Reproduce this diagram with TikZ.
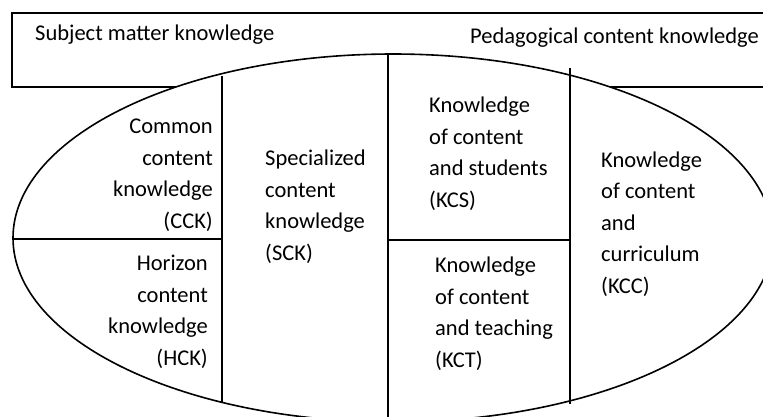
\documentclass[tikz,border=0pt]{standalone}
\usepackage{fontspec}
\setmainfont{Carlito}
\begin{document}
\begin{tikzpicture}[x=1pt,y=-1pt,
  edge/.style={line width=1.6pt},
  lbl/.style={inner sep=0pt,font=\fontsize{22.5}{31.5}\selectfont},
  lblL/.style={lbl,align=left,anchor=base west},
  lblR/.style={lbl,align=right,anchor=base east}]
\useasboundingbox (0,0) rectangle (763,416);
\clip (0,0) rectangle (763,416);
% outer knowledge band
\draw[edge] (12,13) rectangle (790,87);
% ellipse
\draw[edge,fill=white] (393,238) ellipse [x radius=380, y radius=184];
% dividing lines
\draw[edge] (222,76) -- (222,402);
\draw[edge] (388,54) -- (388,430);
\draw[edge] (570,68) -- (570,404);
\draw[edge] (14,239) -- (222,239);
\draw[edge] (388,240) -- (570,240);
% texts (anchor = baseline of the last line)
\node[lblL] (smk) at (35,40) {Subject matter knowledge};
\node[lblL] (pck) at (470,43) {Pedagogical content knowledge};
\node[lblR] (cck) at (213,228) {Common\\content\\knowledge\\(CCK)};
\node[lblR] (hck) at (208,365) {Horizon\\content\\knowledge\\(HCK)};
\node[lblL] (sck) at (265,260) {Specialized\\content\\knowledge\\(SCK)};
\node[lblL] (kcs) at (429,207) {Knowledge\\of content\\and students\\(KCS)};
\node[lblL] (kct) at (435,367) {Knowledge\\of content\\and teaching\\(KCT)};
\node[lblL] (kcc) at (601,293) {Knowledge\\of content\\and\\curriculum\\(KCC)};
\end{tikzpicture}
\end{document}
